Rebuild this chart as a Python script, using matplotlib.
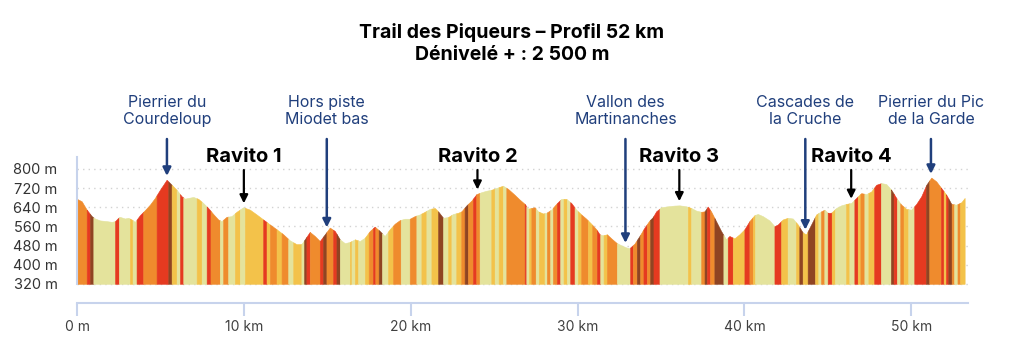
import numpy as np
import matplotlib.pyplot as plt
from matplotlib import transforms

plt.rcParams['font.family'] = ['Inter', 'DejaVu Sans']

# profil (km, altitude en m)
km = [0.0, 0.28, 0.58, 0.88, 1.08, 1.38, 1.78, 2.08, 2.28, 2.47, 2.57, 2.87, 3.07, 3.27, 3.47,
      3.77, 4.07, 4.37, 4.67, 4.97, 5.37, 5.67, 5.97, 6.27, 6.47, 6.67, 6.97, 7.27, 7.56, 7.86,
      8.16, 8.46, 8.66, 8.96, 9.26, 9.56, 9.96, 10.36, 10.76, 11.16, 11.56, 11.96, 12.36, 12.75,
      13.15, 13.45, 13.65, 13.95, 14.25, 14.55, 14.85, 15.15, 15.45, 15.75, 16.05, 16.35, 16.65,
      16.95, 17.25, 17.55, 17.84, 18.14, 18.44, 18.74, 19.04, 19.34, 19.64, 19.94, 20.24, 20.54,
      20.84, 21.14, 21.44, 21.64, 21.94, 22.24, 22.54, 22.84, 23.04, 23.34, 23.64, 23.94, 24.24,
      24.53, 24.83, 25.23, 25.53, 25.83, 26.23, 26.53, 26.83, 27.03, 27.23, 27.43, 27.63, 27.93,
      28.13, 28.42, 28.72, 29.02, 29.32, 29.62, 29.92, 30.22, 30.52, 30.82, 31.12, 31.32, 31.52,
      31.76, 32.02, 32.32, 32.62, 32.92, 33.11, 33.41, 33.71, 34.01, 34.31, 34.51, 34.71, 35.01,
      35.41, 35.81, 36.11, 36.51, 36.81, 37.11, 37.41, 37.61, 37.80, 38.00, 38.30, 38.60, 38.90,
      39.10, 39.40, 39.70, 40.00, 40.30, 40.60, 40.80, 41.10, 41.50, 41.80, 42.00, 42.30, 42.60,
      42.90, 43.20, 43.50, 43.70, 44.00, 44.30, 44.60, 44.80, 45.00, 45.20, 45.50, 45.80, 46.10,
      46.40, 46.70, 47.00, 47.30, 47.60, 47.90, 48.20, 48.50, 48.80, 49.10, 49.40, 49.70, 50.00,
      50.30, 50.60, 50.90, 51.20, 51.50, 51.80, 52.10, 52.40, 52.70, 53.00, 53.20]
alt = [675, 665, 630, 603, 593, 585, 582, 579, 582, 596, 600, 593, 596, 589, 579,
       607, 628, 651, 679, 713, 755, 734, 713, 686, 676, 679, 683, 675, 658, 637,
       612, 589, 582, 600, 603, 621, 640, 630, 610, 589, 568, 548, 527, 502,
       486, 486, 506, 537, 520, 499, 527, 555, 541, 506, 490, 495, 506,
       499, 513, 541, 559, 541, 520, 548, 571, 586, 592, 592, 603, 610,
       621, 633, 637, 623, 596, 599, 612, 617, 623, 648, 668, 695, 703,
       709, 713, 723, 730, 717, 692, 672, 654, 634, 637, 640, 623, 614,
       617, 630, 654, 675, 675, 658, 630, 610, 592, 571, 548, 527, 523,
       527, 510, 492, 481, 472, 469, 488, 520, 555, 585, 599, 623, 640,
       644, 647, 648, 644, 637, 626, 621, 623, 643, 623, 582, 541, 506,
       520, 510, 527, 548, 582, 607, 612, 603, 585, 561, 568, 589, 596,
       593, 568, 534, 527, 568, 610, 623, 630, 617, 617, 637, 648, 654,
       658, 679, 699, 695, 706, 734, 741, 737, 713, 679, 651, 633, 630,
       654, 686, 734, 764, 748, 720, 692, 654, 651, 661, 679]

# bandes de pente : début (km) et classe (P plat, Y faible, O moyen, R fort, B très fort)
stripe_start = [0.00, 0.58, 0.78, 0.98, 2.28, 2.51, 3.17, 3.33, 3.57, 3.97, 4.77, 5.47, 5.67,
                5.97, 6.17, 6.37, 7.17, 7.47, 7.77, 8.00, 8.56, 8.76, 9.06, 9.46, 9.76, 10.06,
                11.16, 11.36, 11.56, 11.96, 12.26, 12.66, 12.96, 13.45, 13.61, 13.75, 13.95,
                14.55, 14.75, 14.95, 15.35, 15.55, 15.75, 16.35, 16.45, 16.65, 16.85, 17.25,
                17.48, 17.74, 17.88, 18.08, 18.28, 18.64, 18.94, 19.40, 19.94, 20.34, 20.64,
                20.94, 21.24, 21.64, 21.94, 22.24, 22.44, 22.73, 23.03, 23.23, 23.43, 23.73,
                23.93, 24.13, 24.83, 25.03, 25.27, 25.53, 25.73, 26.83, 26.93, 27.09, 27.23,
                27.49, 27.68, 28.02, 28.16, 28.36, 28.52, 28.76, 28.96, 29.16, 29.36, 29.56,
                29.82, 30.02, 30.22, 30.62, 30.88, 31.16, 31.36, 31.56, 31.76, 32.36, 33.15,
                33.31, 33.55, 33.75, 33.95, 34.15, 34.35, 34.55, 34.91, 36.61, 36.81, 37.41,
                37.61, 37.75, 37.94, 38.20, 38.74, 39.00, 39.30, 40.00, 40.30, 40.50, 40.64,
                41.80, 42.20, 42.59, 43.09, 43.29, 43.49, 43.79, 44.23, 44.43, 44.59, 44.79,
                44.99, 45.23, 45.43, 46.09, 46.29, 46.59, 46.79, 46.95, 47.19, 47.43, 47.78,
                48.18, 48.78, 48.94, 49.14, 49.34, 49.54, 49.82, 50.18, 50.88, 51.08, 51.78,
                51.94, 52.08, 52.22, 52.42, 52.57, 52.77, 52.93]
stripe_end = 53.2
stripe_cls = ('O R B P R P Y P R O R B Y '
              'P R P Y P R O P O P Y P Y '
              'R Y O Y O P Y P B R O '
              'R B O R B P Y P Y P Y '
              'O R O B P Y O P O P Y '
              'P Y B P Y P Y O B O R '
              'O P Y P Y P O R P Y O '
              'P Y P O P O R P Y P R '
              'P Y O Y O R P Y O P R '
              'O B O R O B R P Y P O '
              'B R O B P R Y R O Y P '
              'R Y P Y B Y B Y P O P '
              'R Y P Y P R Y O P Y R '
              'P B R P O Y P R B O R '
              'Y R B O P O Y').split()

slope_colors = {'P': '#e4e39c', 'Y': '#f3c24a', 'O': '#ef8b2d', 'R': '#e53a20', 'B': '#8f4422'}

y_ticks = [320, 400, 480, 560, 640, 720, 800]
x_ticks = [0, 10, 20, 30, 40, 50]
x_labels = ['0 m', '10 km', '20 km', '30 km', '40 km', '50 km']

lieux = ['Pierrier du\nCourdeloup', 'Hors piste\nMiodet bas', 'Vallon des\nMartinanches',
         'Cascades de\nla Cruche', 'Pierrier du Pic\nde la Garde']
lieux_km = [5.39, 14.97, 32.87, 43.65, 51.18]
ravitos = ['Ravito 1', 'Ravito 2', 'Ravito 3', 'Ravito 4']
ravitos_km = [10.0, 24.0, 36.1, 46.4]

navy = '#203f7c'
axis_blue = '#c7d3ec'

fig = plt.figure(figsize=(10.24, 3.38), dpi=100)
ax = fig.add_axes([0.0752, 0.1036, 0.8701, 0.4319])
ax.set_xlim(0, 53.4)
ax.set_ylim(240, 850)

km_a = np.array(km)
alt_a = np.array(alt)
edges = stripe_start + [stripe_end]
for i, c in enumerate(stripe_cls):
    a, b = edges[i], edges[i + 1]
    inside = km_a[(km_a > a) & (km_a < b)]
    xs = np.concatenate([[a], inside, [b]])
    ys = np.interp(xs, km_a, alt_a)
    ax.fill_between(xs, 320, ys, color=slope_colors[c], lw=0.4, zorder=2)

# grille pointillée
for y in y_ticks:
    ax.plot([0, 53.4], [y, y], ls=(0, (1, 3)), color='#d2d2d2', lw=1, zorder=1, clip_on=False)

for s in ['top', 'right']:
    ax.spines[s].set_visible(False)
ax.spines['left'].set_bounds(320, 850)
ax.spines['left'].set_color(axis_blue)
ax.spines['left'].set_linewidth(1.5)
ax.spines['bottom'].set_color(axis_blue)
ax.spines['bottom'].set_linewidth(1.5)

ax.set_yticks(y_ticks, [f'{v} m' for v in y_ticks])
ax.tick_params(axis='y', length=0, pad=14, labelsize=10.5, labelcolor='#333333')
ax.set_xticks(x_ticks, x_labels)
ax.tick_params(axis='x', length=9, width=1.5, color=axis_blue, pad=3, labelsize=10,
               labelcolor='#404040')

trans = transforms.blended_transform_factory(ax.transData, fig.transFigure)
H = 338.0

for name, k in zip(lieux, lieux_km):
    ax.text(k, 1 - 111 / H, name, transform=trans, ha='center', va='center',
            fontsize=11.5, color=navy, linespacing=1.2)
    ax.annotate('', xy=(k, np.interp(k, km_a, alt_a)), xycoords='data',
                xytext=(k, 1 - 139 / H), textcoords=trans,
                arrowprops=dict(arrowstyle='-|>', color=navy, lw=1.8, shrinkA=0,
                                shrinkB=3, mutation_scale=12))

for name, k in zip(ravitos, ravitos_km):
    ax.text(k, 1 - 157 / H, name, transform=trans, ha='center', va='center',
            fontsize=14.5, fontweight='bold', color='black')
    ax.annotate('', xy=(k, np.interp(k, km_a, alt_a)), xycoords='data',
                xytext=(k, 1 - 170 / H), textcoords=trans,
                arrowprops=dict(arrowstyle='-|>', color='black', lw=1.6, shrinkA=0,
                                shrinkB=3, mutation_scale=12))

fig.text(0.5, 1 - 38 / H, 'Trail des Piqueurs – Profil 52 km', ha='center', va='baseline',
         fontsize=14, fontweight='bold')
fig.text(0.5, 1 - 60 / H, 'Dénivelé + : 2 500 m', ha='center', va='baseline',
         fontsize=14, fontweight='bold')

fig.savefig('out.png', dpi=100)
